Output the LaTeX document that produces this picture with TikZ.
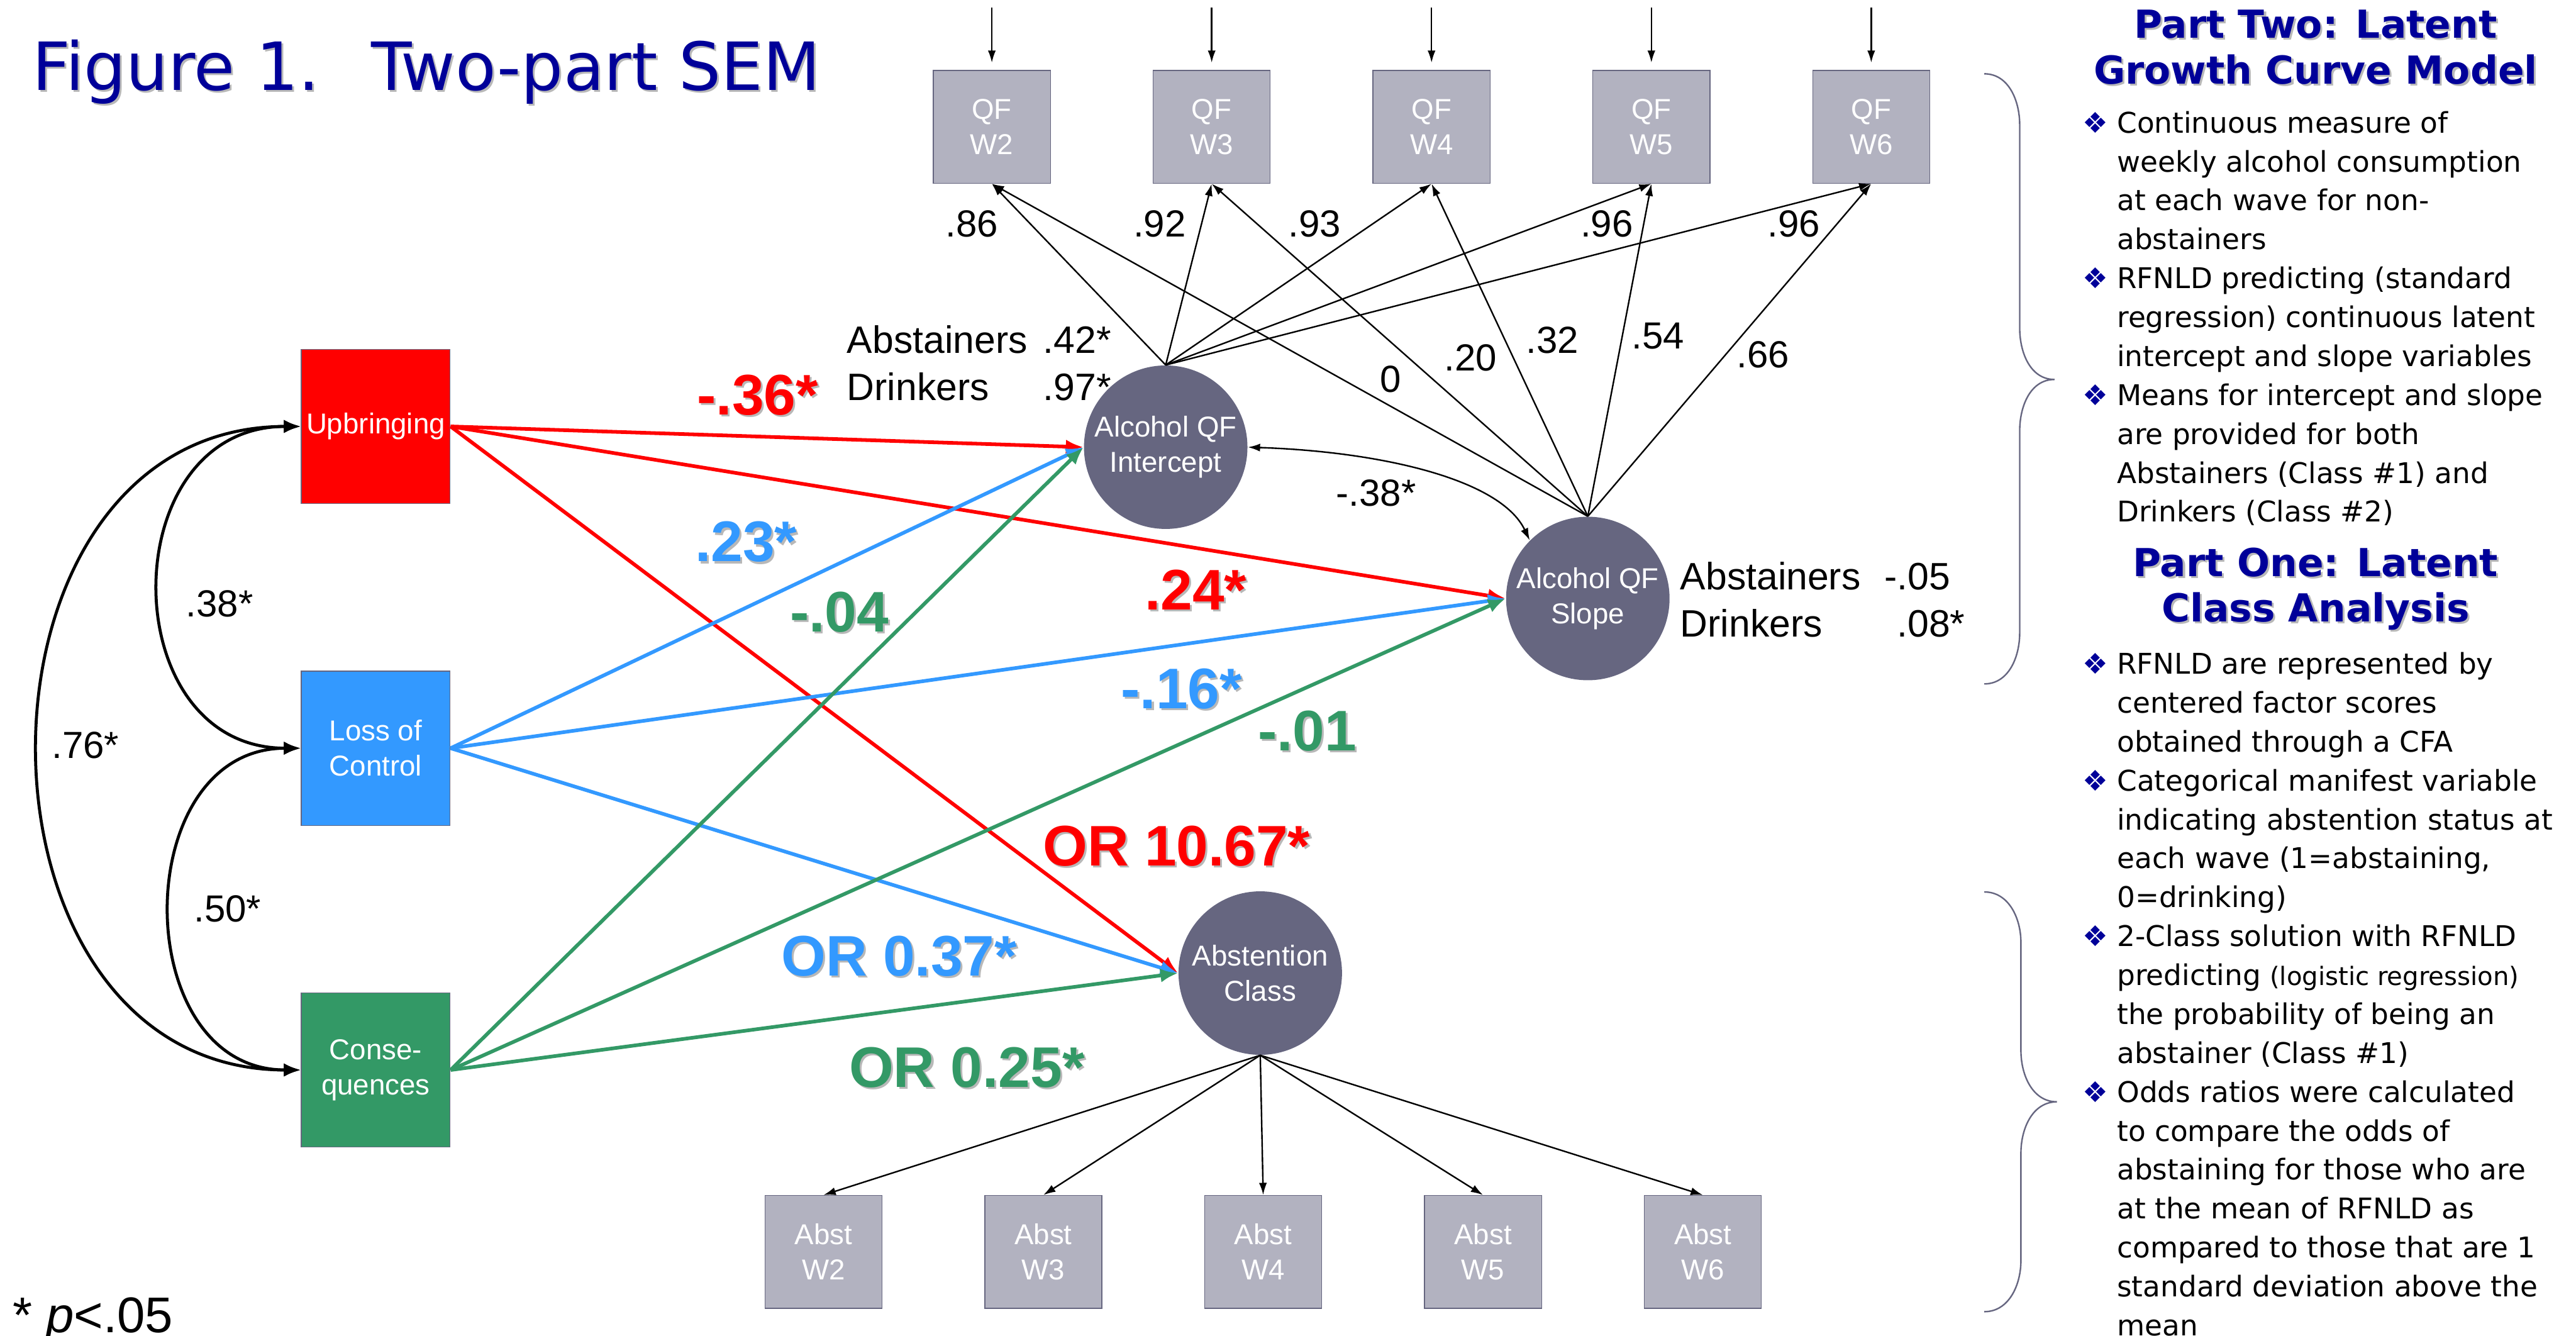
\documentclass[tikz,border=0pt]{standalone}
\usepackage{fontspec}
\setmainfont{Liberation Sans}
\newfontfamily\verdfont{DejaVu Sans}
\usetikzlibrary{arrows.meta,positioning}

\definecolor{navy}{RGB}{0,0,153}
\definecolor{upred}{RGB}{255,0,0}
\definecolor{locblue}{RGB}{51,153,255}
\definecolor{csgreen}{RGB}{51,153,102}
\definecolor{obsgray}{RGB}{178,178,192}
\definecolor{latgray}{RGB}{102,102,128}
\definecolor{rimgray}{RGB}{102,102,128}

% text with a soft grey drop shadow
\newcommand{\shadowtext}[2]{\makebox[0pt][l]{\hspace{0.9pt}\raisebox{-0.9pt}{\color{black!28}#2}}{\color{#1}#2}}
% bullet of the side notes
\newcommand{\itm}{\llap{\textcolor{navy}{❖}\hspace{4.3pt}}}

\tikzset{
  obsbox/.style={rectangle,draw=rimgray,line width=0.4pt,fill=obsgray,minimum width=1.92cm,minimum height=1.85cm,inner sep=0pt,align=center,text=white,font=\fontsize{13.4}{16.5}\selectfont},
  predbox/.style={rectangle,draw=rimgray,line width=0.4pt,minimum width=2.44cm,minimum height=2.53cm,inner sep=0pt,align=center,text=white,font=\fontsize{13.4}{16.5}\selectfont},
  latent/.style={circle,fill=latgray,minimum size=2.68cm,inner sep=0pt,align=center,text=white,font=\fontsize{13.4}{16.5}\selectfont},
  coef/.style={inner sep=0pt,font=\fontsize{17.6}{21}\selectfont},
  bigcoef/.style={inner sep=0pt,font=\bfseries\fontsize{26.7}{30}\selectfont},
  stats/.style={inner sep=0pt,anchor=base west,font=\fontsize{17.8}{21.9}\selectfont},
  heading/.style={inner sep=0pt,anchor=north,align=center,font=\verdfont\bfseries\fontsize{18}{21.3}\selectfont},
  notes/.style={inner sep=0pt,anchor=north west,align=left,font=\verdfont\fontsize{13.3}{18.15}\selectfont},
  loading/.style={draw,>={Latex[length=2mm,width=1.3mm]},->,line width=0.7pt},
  regpath/.style={draw,>={Latex[length=2.9mm,width=2.3mm]},->,line width=1.7pt},
  corr/.style={draw,>={Latex[length=2.8mm,width=2.2mm]},<->,line width=1.4pt},
  bracket/.style={draw=rimgray,line width=0.7pt}
}

\begin{document}
\begin{tikzpicture}[>=Latex]

\useasboundingbox (0,0) rectangle (42.23,-21.89);

\node[anchor=base west,inner sep=0pt,font=\verdfont\fontsize{31}{36}\selectfont] (title) at (0.52,-1.48)
  {\shadowtext{navy}{Figure 1.\hspace{0.78em}Two-part SEM}};

% =========================================================
% Predictors (RFNLD)
% =========================================================

\node[predbox,fill=upred] (up) at (6.16,-6.99) {Upbringing};
\node[predbox,fill=locblue,below=2.73cm of up] (loc) {Loss of\\Control};
\node[predbox,fill=csgreen,below=2.73cm of loc] (cons) {Conse-\\quences};

\draw[corr] (up.west) to[out=180,in=180,looseness=1.5] (loc.west);
\draw[corr] (loc.west) to[out=180,in=180,looseness=1.38] (cons.west);
\draw[corr] (up.west) to[out=180,in=180,looseness=1.39] (cons.west);

\node[coef] (r38) at (3.60,-9.90) {.38*};
\node[coef] (r50) at (3.73,-14.90) {.50*};
\node[coef] (r76) at (1.40,-12.22) {.76*};

% =========================================================
% Growth part: intercept, slope and QF indicators
% =========================================================

\node[obsbox] (qf2) at (16.26,-2.08) {QF\\W2};
\node[obsbox,right=1.67cm of qf2] (qf3) {QF\\W3};
\node[obsbox,right=1.67cm of qf3] (qf4) {QF\\W4};
\node[obsbox,right=1.67cm of qf4] (qf5) {QF\\W5};
\node[obsbox,right=1.67cm of qf5] (qf6) {QF\\W6};

\coordinate (e2) at ([yshift=1.02cm]qf2.north);
\coordinate (e3) at ([yshift=1.02cm]qf3.north);
\coordinate (e4) at ([yshift=1.02cm]qf4.north);
\coordinate (e5) at ([yshift=1.02cm]qf5.north);
\coordinate (e6) at ([yshift=1.02cm]qf6.north);

\draw[loading,shorten >=0.12cm] (e2) -- (qf2);
\draw[loading,shorten >=0.12cm] (e3) -- (qf3);
\draw[loading,shorten >=0.12cm] (e4) -- (qf4);
\draw[loading,shorten >=0.12cm] (e5) -- (qf5);
\draw[loading,shorten >=0.12cm] (e6) -- (qf6);

\node[latent] (icpt) at (19.11,-7.33) {Alcohol QF\\Intercept};
\node[latent] (slope) at (26.03,-9.81) {Alcohol QF\\Slope};

\draw[loading] (icpt.north) -- (qf2.south);
\draw[loading] (icpt.north) -- (qf3.south);
\draw[loading] (icpt.north) -- (qf4.south);
\draw[loading] (icpt.north) -- (qf5.south);
\draw[loading] (icpt.north) -- (qf6.south);

\draw[loading] (slope.north) -- (qf2.south);
\draw[loading] (slope.north) -- (qf3.south);
\draw[loading] (slope.north) -- (qf4.south);
\draw[loading] (slope.north) -- (qf5.south);
\draw[loading] (slope.north) -- (qf6.south);

\draw[<->,>={Latex[length=2mm,width=1.3mm]},line width=0.7pt]
  (icpt.east) .. controls +(2.15,-0.07) and +(-0.48,1.01) .. (slope.135);

\node[coef] (li2) at (15.93,-3.67) {.86};
\node[coef] (li3) at (19.01,-3.67) {.92};
\node[coef] (li4) at (21.55,-3.67) {.93};
\node[coef] (li5) at (26.34,-3.67) {.96};
\node[coef] (li6) at (29.41,-3.67) {.96};

\node[coef] (ls2) at (22.80,-6.22) {0};
\node[coef] (ls3) at (24.11,-5.87) {.20};
\node[coef] (ls4) at (25.45,-5.58) {.32};
\node[coef] (ls5) at (27.18,-5.51) {.54};
\node[coef] (ls6) at (28.90,-5.81) {.66};

\node[coef] (rIS) at (22.56,-8.08) {-.38*};

\node[stats] (icptMeans) at (13.88,-5.79)
  {\begin{tabular}[t]{@{}l@{\hspace{7.4pt}}l@{}}Abstainers & .42*\\ Drinkers & .97*\end{tabular}};
\node[stats] (slopeMeans) at (27.54,-9.67)
  {\begin{tabular}[t]{@{}l@{\hspace{17pt}}l@{}}Abstainers & \llap{-}.05\\ Drinkers & .08*\end{tabular}};

% =========================================================
% Class part: abstention class and its indicators
% =========================================================

\node[latent] (abst) at (20.66,-15.95) {Abstention\\Class};

\node[obsbox] (ab2) at (13.50,-20.52) {Abst\\W2};
\node[obsbox,right=1.67cm of ab2] (ab3) {Abst\\W3};
\node[obsbox,right=1.67cm of ab3] (ab4) {Abst\\W4};
\node[obsbox,right=1.67cm of ab4] (ab5) {Abst\\W5};
\node[obsbox,right=1.67cm of ab5] (ab6) {Abst\\W6};

\draw[loading] (abst.south) -- (ab2.north);
\draw[loading] (abst.south) -- (ab3.north);
\draw[loading] (abst.south) -- (ab4.north);
\draw[loading] (abst.south) -- (ab5.north);
\draw[loading] (abst.south) -- (ab6.north);

% =========================================================
% Regressions on the RFNLD scores
% =========================================================

\draw[regpath,upred] (up.east) -- (icpt.west);
\draw[regpath,upred] (up.east) -- (slope.west);
\draw[regpath,upred] (up.east) -- (abst.west);

\draw[regpath,locblue] (loc.east) -- (icpt.west);
\draw[regpath,locblue] (loc.east) -- (slope.west);
\draw[regpath,locblue] (loc.east) -- (abst.west);

\draw[regpath,csgreen] (cons.east) -- (icpt.west);
\draw[regpath,csgreen] (cons.east) -- (slope.west);
\draw[regpath,csgreen] (cons.east) -- (abst.west);

\node[bigcoef] (bUpI) at (12.42,-6.49) {\shadowtext{upred}{-.36*}};
\node[bigcoef] (bLoI) at (12.23,-8.90) {\shadowtext{locblue}{.23*}};
\node[bigcoef] (bCoI) at (13.76,-10.05) {\shadowtext{csgreen}{-.04}};
\node[bigcoef] (bUpS) at (19.60,-9.68) {\shadowtext{upred}{.24*}};
\node[bigcoef] (bLoS) at (19.37,-11.31) {\shadowtext{locblue}{-.16*}};
\node[bigcoef] (bCoS) at (21.43,-12.00) {\shadowtext{csgreen}{-.01}};
\node[bigcoef] (orUp) at (19.29,-13.88) {\shadowtext{upred}{OR 10.67*}};
\node[bigcoef] (orLo) at (14.74,-15.69) {\shadowtext{locblue}{OR 0.37*}};
\node[bigcoef] (orCo) at (15.85,-17.51) {\shadowtext{csgreen}{OR 0.25*}};

\node[anchor=base west,inner sep=0pt,font=\fontsize{23.4}{28}\selectfont] (sig) at (0.20,-21.84) {* \textit{p}<.05};

% =========================================================
% Side notes
% =========================================================

\draw[bracket] (32.53,-1.21) to[out=0,in=90] (33.11,-2.05) -- (33.11,-5.38)
  to[out=-90,in=180] (33.68,-6.22) to[out=180,in=90] (33.11,-7.06) -- (33.11,-10.37)
  to[out=-90,in=0] (32.53,-11.21);
\draw[bracket] (32.53,-14.62) to[out=0,in=90] (33.13,-15.45) -- (33.13,-17.22)
  to[out=-90,in=180] (33.72,-18.06) to[out=180,in=90] (33.13,-18.90) -- (33.13,-20.66)
  to[out=-90,in=0] (32.53,-21.50);

\node[heading] (partTwo) at (37.96,-0.096) {\strut\shadowtext{navy}{Part Two: Latent}\\\shadowtext{navy}{Growth Curve Model}};
\node[notes] (partTwoNotes) at (34.70,-1.724) {%
\strut\itm Continuous measure of\\
weekly alcohol consumption\\
at each wave for non-\\
abstainers\\
\itm RFNLD predicting (standard\\
regression) continuous latent\\
intercept and slope variables\\
\itm Means for intercept and slope\\
are provided for both\\
Abstainers (Class \#1) and\\
Drinkers (Class \#2)};

\node[heading] (partOne) at (37.96,-8.916) {\strut\shadowtext{navy}{Part One: Latent}\\\shadowtext{navy}{Class Analysis}};
\node[notes] (partOneNotes) at (34.70,-10.594) {%
\strut\itm RFNLD are represented by\\
centered factor scores\\
obtained through a CFA\\
\itm Categorical manifest variable\\
indicating abstention status at\\
each wave (1=abstaining,\\
0=drinking)\\
\itm 2-Class solution with RFNLD\\
predicting {\fontsize{11.8}{18.15}\selectfont (logistic regression)}\\
the probability of being an\\
abstainer (Class \#1)\\
\itm Odds ratios were calculated\\
to compare the odds of\\
abstaining for those who are\\
at the mean of RFNLD as\\
compared to those that are 1\\
standard deviation above the\\
mean};

\end{tikzpicture}
\end{document}
